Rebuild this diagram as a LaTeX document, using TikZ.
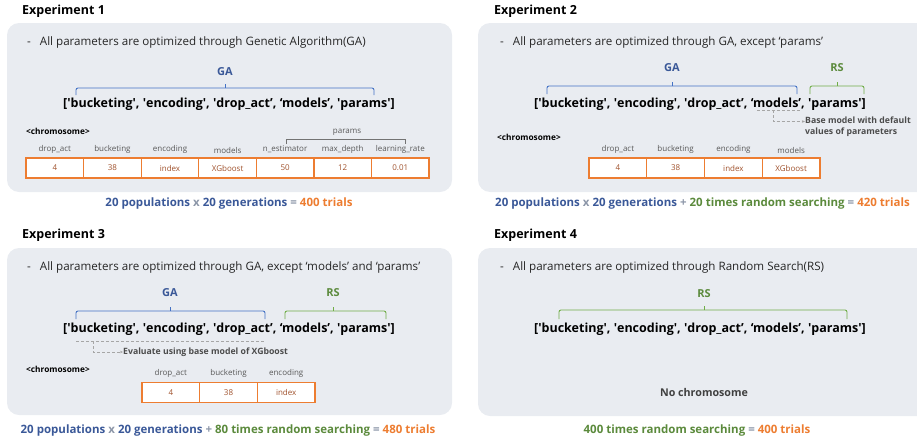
\documentclass[tikz,border=0pt]{standalone}
\usepackage{fontspec}
\setmainfont{Open Sans}
\usetikzlibrary{arrows.meta,positioning}

\definecolor{panelbg}{HTML}{E9ECF1}
\definecolor{gatext}{HTML}{3A5898}
\definecolor{galine}{HTML}{4472C4}
\definecolor{rstext}{HTML}{5B8A3C}
\definecolor{rsline}{HTML}{70AD47}
\definecolor{trials}{HTML}{ED7D31}
\definecolor{cellline}{HTML}{ED7D31}
\definecolor{celltext}{HTML}{A0522D}
\definecolor{symgray}{HTML}{8C96A8}

\newcommand{\sq}{\textquotesingle}
\newcommand{\keylist}{[\sq bucketing\sq, \sq encoding\sq, \sq drop\_act’, ‘models’, \sq params\sq]}

\begin{document}
\begin{tikzpicture}[x=1pt, y=-1pt,
  panel/.style   = {fill=panelbg, rounded corners=12pt},
  title/.style   = {anchor=west, inner sep=0pt, font=\fontsize{12.5}{14}\selectfont\bfseries},
  bullet/.style  = {anchor=west, inner sep=0pt, font=\fontsize{11.6}{13}\selectfont, text=black!85},
  keys/.style    = {inner sep=0pt, font=\fontsize{12.5}{16}\selectfont\bfseries},
  galbl/.style   = {inner sep=0pt, font=\fontsize{11}{13}\selectfont\bfseries, text=gatext},
  rslbl/.style   = {inner sep=0pt, font=\fontsize{11}{13}\selectfont\bfseries, text=rstext},
  gabrace/.style = {draw=galine, line width=0.9pt, rounded corners=2pt},
  rsbrace/.style = {draw=rsline, line width=0.9pt, rounded corners=2pt},
  pbracket/.style = {draw=black!55, line width=0.5pt},
  chromo/.style  = {anchor=west, inner sep=0pt, font=\fontsize{8.3}{10}\selectfont\bfseries},
  colname/.style = {inner sep=0pt, font=\fontsize{8}{10}\selectfont, text=black!65},
  cell/.style    = {draw=cellline, line width=1.3pt, fill=white, inner sep=0pt,
                    minimum width=57.6pt, minimum height=20pt,
                    text=celltext, font=\fontsize{8}{10}\selectfont},
  uline/.style   = {draw=black!35, dash pattern=on 3pt off 2pt, line width=0.8pt},
  noteline/.style = {uline, -{Stealth[length=3pt,width=2.5pt]}},
  note/.style    = {anchor=west, align=left, inner sep=0pt,
                    font=\fontsize{8.7}{11}\selectfont\bfseries, text=black!70},
  total/.style   = {inner sep=0pt, font=\fontsize{11.5}{14}\selectfont\bfseries},
]
  \useasboundingbox (0,0) rectangle (917,439);

  % Experiment 1
  \node[title] (t1) at (22,11) {Experiment 1};
  \fill[panel] (7,23) rectangle (452,192);
  \node[bullet] (b1) at (27,42) {-\hspace{9pt}All parameters are optimized through Genetic Algorithm(GA)};
  \node[galbl] (ga1) at (225,72) {GA};
  \draw[gabrace] (76,95) |- (374,88) -- (374,95);
  \draw[gabrace] (225,88) -- (225,84);
  \node[keys] (k1) at (229,104) {\keylist};
  \node[chromo] (ch1) at (26,131) {<chromosome>};
  \node[cell] (e1c1) at (54.8,168) {4};
  \node[cell] (e1c2) at (112.4,168) {38};
  \node[cell] (e1c3) at (170.0,168) {index};
  \node[cell] (e1c4) at (227.6,168) {XGboost};
  \node[cell] (e1c5) at (285.1,168) {50};
  \node[cell] (e1c6) at (342.7,168) {12};
  \node[cell] (e1c7) at (400.3,168) {0.01};
  \node[colname, above=4pt of e1c1] (e1n1) {drop\_act};
  \node[colname, above=4pt of e1c2] (e1n2) {bucketing};
  \node[colname, above=4pt of e1c3] (e1n3) {encoding};
  \node[colname, above=4pt of e1c4] (e1n4) {models};
  \node[colname, above=4pt of e1c5] (e1n5) {n\_estimator};
  \node[colname, above=4pt of e1c6] (e1n6) {max\_depth};
  \node[colname, above=4pt of e1c7] (e1n7) {learning\_rate};
  \draw[pbracket] (286,144) |- (405,139) -- (405,144);
  \node[colname] (par1) at (347,132) {params};
  \node[total] (tot1) at (229,204) {\textcolor{gatext}{20 populations} \textcolor{symgray}{x}
    \textcolor{gatext}{20 generations} \textcolor{symgray}{=} \textcolor{trials}{400 trials}};

  % Experiment 2
  \node[title] (t2) at (494,11) {Experiment 2};
  \fill[panel] (478,23) rectangle (940,192);
  \node[bullet] (b2) at (500,42) {-\hspace{9pt}All parameters are optimized through GA, except ‘params’};
  \node[galbl] (ga2) at (672,68) {GA};
  \node[rslbl] (rs2) at (837,68) {RS};
  \draw[gabrace] (547,94) |- (797,86) -- (797,94);
  \draw[gabrace] (672,86) -- (672,82);
  \draw[rsbrace] (810,94) |- (864,86) -- (864,94);
  \draw[rsbrace] (837,86) -- (837,82);
  \node[keys] (k2) at (700,104) {\keylist};
  \coordinate (u2a) at (757,110);
  \coordinate (u2b) at (800,110);
  \coordinate (u2t) at (773,110);
  \draw[uline] (u2a) -- (u2b);
  \node[note] (n2) at (805,126.5) {Base model with default\\values of parameters};
  \draw[noteline] (u2t) |- ([yshift=5pt]n2.west);
  \node[chromo] (ch2) at (497,137) {<chromosome>};
  \node[cell] (e2c1) at (617.9,168) {4};
  \node[cell] (e2c2) at (675.6,168) {38};
  \node[cell] (e2c3) at (733.4,168) {index};
  \node[cell] (e2c4) at (791.1,168) {XGboost};
  \node[colname, above=4pt of e2c1] (e2n1) {drop\_act};
  \node[colname, above=4pt of e2c2] (e2n2) {bucketing};
  \node[colname, above=4pt of e2c3] (e2n3) {encoding};
  \node[colname, above=4pt of e2c4] (e2n4) {models};
  \node[total, anchor=west] (tot2) at (495,204) {\textcolor{gatext}{20 populations} \textcolor{symgray}{x}
    \textcolor{gatext}{20 generations} \textcolor{symgray}{+} \textcolor{rstext}{20 times random searching}
    \textcolor{symgray}{=} \textcolor{trials}{420 trials}};

  % Experiment 3
  \node[title] (t3) at (22,235) {Experiment 3};
  \fill[panel] (7,248) rectangle (452,415);
  \node[bullet] (b3) at (27,267) {-\hspace{9pt}All parameters are optimized through GA, except ‘models’ and ‘params’};
  \node[galbl] (ga3) at (170,293) {GA};
  \node[rslbl] (rs3) at (333,293) {RS};
  \draw[gabrace] (76,319) |- (265,311) -- (265,319);
  \draw[gabrace] (170,311) -- (170,307);
  \draw[rsbrace] (285,319) |- (386,311) -- (386,319);
  \draw[rsbrace] (333,311) -- (333,307);
  \node[keys] (k3) at (229,329) {\keylist};
  \coordinate (u3a) at (76,341);
  \coordinate (u3b) at (265,341);
  \coordinate (u3t) at (93,341);
  \draw[uline] (u3a) -- (u3b);
  \node[note] (n3) at (123,352) {Evaluate using base model of XGboost};
  \draw[noteline] (u3t) |- (n3.west);
  \node[chromo] (ch3) at (26,369) {<chromosome>};
  \node[cell] (e3c1) at (170.8,392.5) {4};
  \node[cell] (e3c2) at (228.5,392.5) {38};
  \node[cell] (e3c3) at (286.2,392.5) {index};
  \node[colname, above=4pt of e3c1] (e3n1) {drop\_act};
  \node[colname, above=4pt of e3c2] (e3n2) {bucketing};
  \node[colname, above=4pt of e3c3] (e3n3) {encoding};
  \node[total] (tot3) at (228,431) {\textcolor{gatext}{20 populations} \textcolor{symgray}{x}
    \textcolor{gatext}{20 generations} \textcolor{symgray}{+} \textcolor{rstext}{80 times random searching}
    \textcolor{symgray}{=} \textcolor{trials}{480 trials}};

  % Experiment 4
  \node[title] (t4) at (494,235) {Experiment 4};
  \fill[panel] (478,248) rectangle (940,416);
  \node[bullet] (b4) at (500,267) {-\hspace{9pt}All parameters are optimized through Random Search(RS)};
  \node[rslbl] (rs4) at (704,294) {RS};
  \draw[rsbrace] (559,319) |- (847,310) -- (847,319);
  \draw[rsbrace] (704,310) -- (704,306);
  \node[keys] (k4) at (700,329) {\keylist};
  \node[inner sep=0pt, font=\fontsize{10.7}{12}\selectfont\bfseries, text=black!75] (noch) at (704,392) {No chromosome};
  \node[total] (tot4) at (697,431) {\textcolor{rstext}{400 times random searching}
    \textcolor{symgray}{=} \textcolor{trials}{400 trials}};
\end{tikzpicture}
\end{document}
